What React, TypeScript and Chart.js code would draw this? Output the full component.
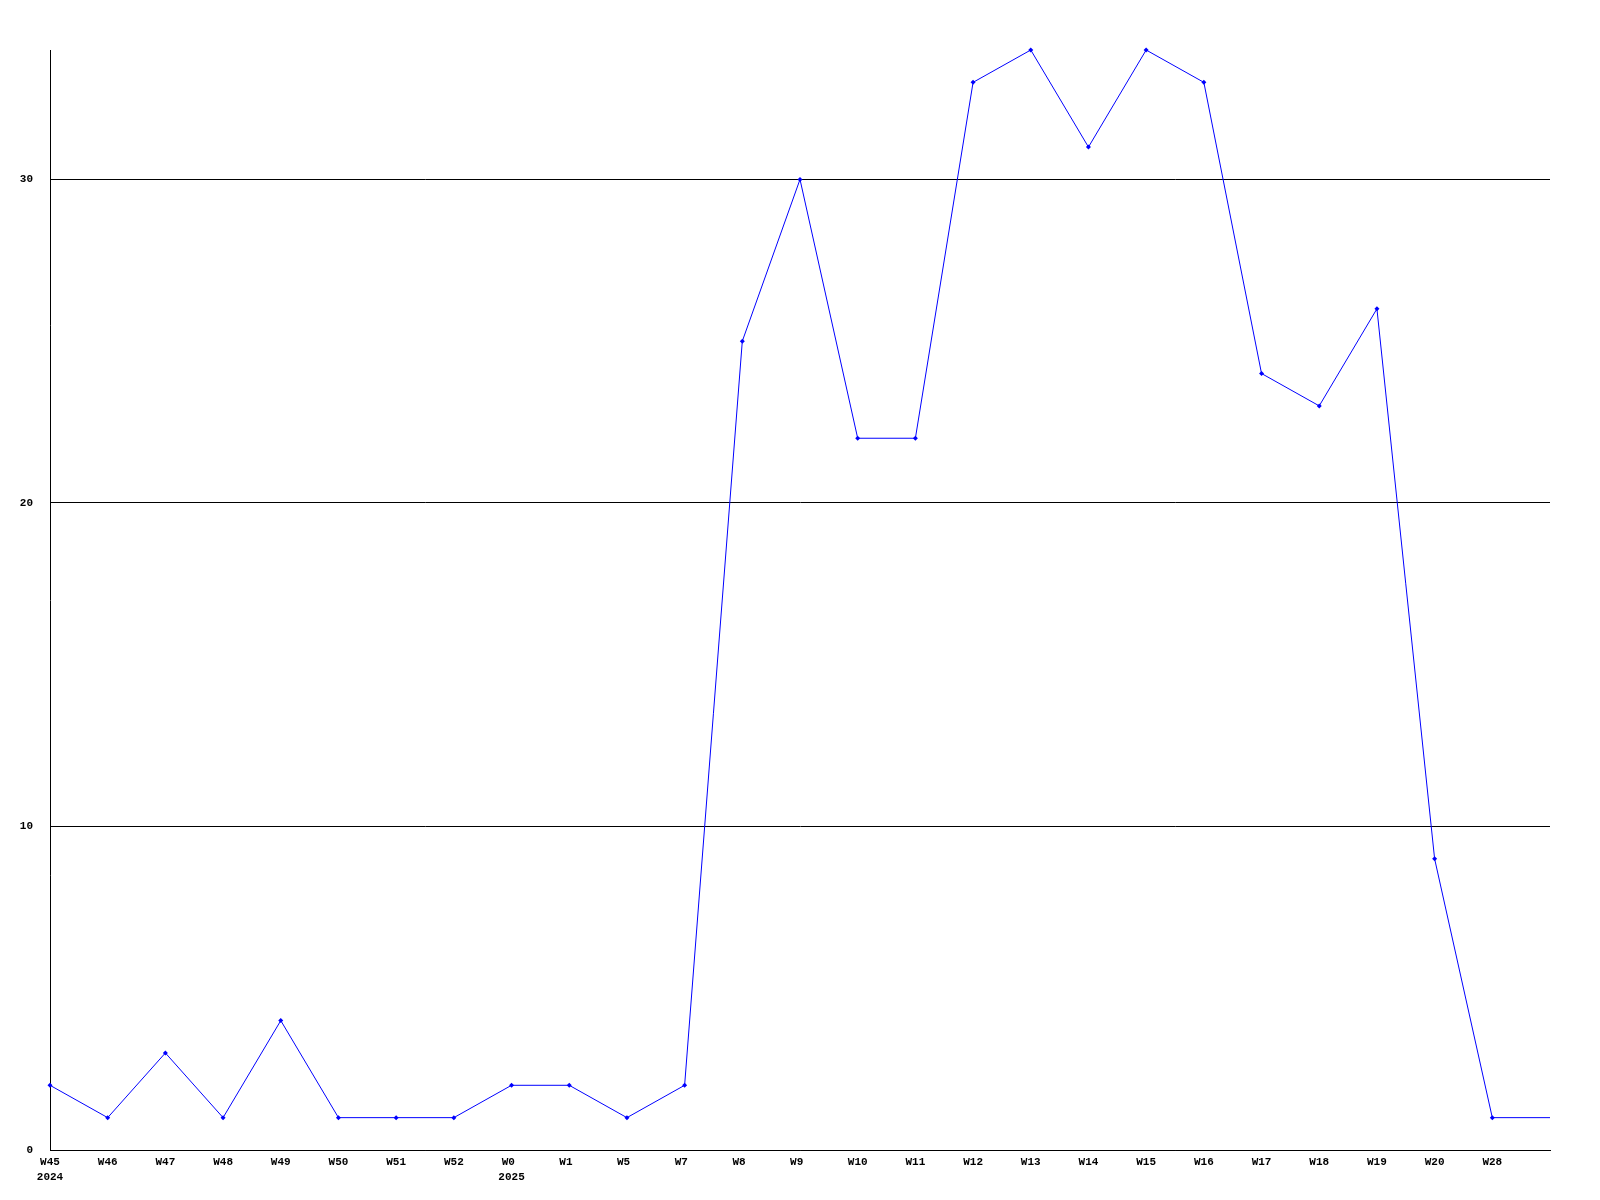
import React, { useEffect, useRef } from "react";
import { Chart, registerables } from "chart.js";

Chart.register(...registerables);

const weekLabels: (string | string[])[] = [
  ["W45", "2024"], "W46", "W47", "W48", "W49", "W50", "W51", "W52",
  ["W0 ", "2025"], "W1 ", "W5 ", "W7 ", "W8 ", "W9 ", "W10", "W11", "W12",
  "W13", "W14", "W15", "W16", "W17", "W18", "W19", "W20", "W28", "",
];

const counts: number[] = [
  2, 1, 3, 1, 4, 1, 1, 1, 2, 2, 1, 2, 25, 30, 22, 22, 33, 34, 31, 34, 33,
  24, 23, 26, 9, 1, 1,
];

const yTickValues: number[] = [0, 10, 20, 30];
const yMax = 34;

const FONT = { family: "'Liberation Mono', 'DejaVu Sans Mono', monospace", size: 11, weight: "bold" as const, lineHeight: "15px" };

export default function App() {
  const ref = useRef<HTMLCanvasElement | null>(null);
  useEffect(() => {
    if (!ref.current) return;
    const last = counts.length - 1;
    const chart = new Chart(ref.current, {
      type: "line",
      data: {
        labels: weekLabels,
        datasets: [
          {
            data: counts,
            borderColor: "#0000ff",
            backgroundColor: "#0000ff",
            borderWidth: 1,
            pointStyle: "rectRot",
            pointRadius: counts.map((_, i) => (i === last ? 0 : 2.5)),
            pointBorderWidth: 0,
            tension: 0,
            fill: false,
            clip: false as any,
          },
        ],
      },
      options: {
        animation: false,
        responsive: false,
        maintainAspectRatio: false,
        layout: { padding: { left: 0, top: 50, right: 50, bottom: 0 } },
        plugins: { legend: { display: false }, tooltip: { enabled: false } },
        scales: {
          x: {
            type: "category",
            offset: false,
            grid: { display: false, drawTicks: false },
            border: { display: true, color: "#000000", width: 1 },
            ticks: {
              color: "#000000",
              font: FONT,
              padding: 5,
              maxRotation: 0,
              minRotation: 0,
              autoSkip: false,
            },
            afterFit: (s: any) => {
              s.height = 50;
            },
          },
          y: {
            min: 0,
            max: yMax,
            grid: { color: "#000000", lineWidth: 1, drawTicks: false },
            border: { display: true, color: "#000000", width: 1 },
            ticks: {
              color: "#000000",
              font: FONT,
              padding: 17,
            },
            afterBuildTicks: (s: any) => {
              s.ticks = yTickValues.map((v) => ({ value: v }));
            },
            afterFit: (s: any) => {
              s.width = 50;
            },
          },
        },
      },
    });
    return () => chart.destroy();
  }, []);
  return (
    <div style={{ position: "fixed", left: 0, top: 0, width: 1600, height: 1200, background: "#ffffff" }}>
      <canvas ref={ref} width={1600} height={1200} style={{ width: 1600, height: 1200 }} />
    </div>
  );
}
